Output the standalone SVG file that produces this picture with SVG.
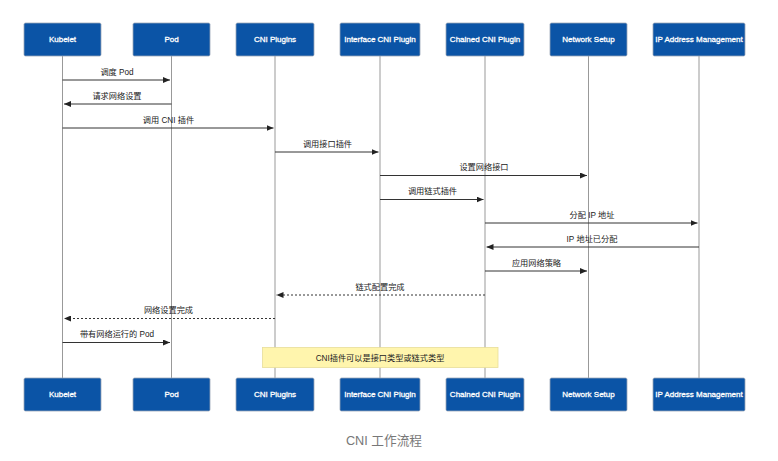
<svg xmlns="http://www.w3.org/2000/svg" width="778" height="461" viewBox="0 0 778 461">
<style>
.box{fill:#0b54a6;stroke:#9aa6b8;stroke-width:0.8}
.nt{font-family:"Liberation Sans",Arial,sans-serif;font-size:8px;fill:#ffffff;stroke:#ffffff;stroke-width:0.3;text-anchor:middle;dominant-baseline:central}
.life{stroke:#999999;stroke-width:1;fill:none}
.msg{stroke:#333333;stroke-width:1;fill:none;marker-end:url(#ah)}
.dash{stroke-dasharray:2,2}
.ml{font-family:"Liberation Sans","Noto Sans CJK SC",sans-serif;font-size:8.2px;fill:#222222;text-anchor:middle}
.note{fill:#fff5ad;stroke:#e8de9a;stroke-width:0.8}
.title{font-family:"Liberation Sans","Noto Sans CJK SC",sans-serif;font-size:12.7px;fill:#777777;text-anchor:middle;dominant-baseline:central}
</style>
<defs>
<marker id="ah" markerUnits="userSpaceOnUse" markerWidth="7" markerHeight="6" refX="7" refY="3" orient="auto">
<path d="M0,0 L7,3 L0,6 z" fill="#222222"/>
</marker>
</defs>
<rect width="778" height="461" fill="#ffffff"/>
<g id="lifelines">
<line class="life" x1="62.5" y1="56" x2="62.5" y2="378"/>
<line class="life" x1="171.5" y1="56" x2="171.5" y2="378"/>
<line class="life" x1="275" y1="56" x2="275" y2="378"/>
<line class="life" x1="380" y1="56" x2="380" y2="378"/>
<line class="life" x1="485" y1="56" x2="485" y2="378"/>
<line class="life" x1="588.5" y1="56" x2="588.5" y2="378"/>
<line class="life" x1="699" y1="56" x2="699" y2="378"/>
</g>
<g id="kubelet">
<rect class="box" x="24" y="23" width="77" height="33" rx="1.5"/><text class="nt" x="62.5" y="39.5">Kubelet</text>
<rect class="box" x="24" y="378" width="77" height="33" rx="1.5"/><text class="nt" x="62.5" y="394.5">Kubelet</text>
</g>
<g id="pod">
<rect class="box" x="133" y="23" width="77" height="33" rx="1.5"/><text class="nt" x="171.5" y="39.5">Pod</text>
<rect class="box" x="133" y="378" width="77" height="33" rx="1.5"/><text class="nt" x="171.5" y="394.5">Pod</text>
</g>
<g id="cni-plugins">
<rect class="box" x="236" y="23" width="78" height="33" rx="1.5"/><text class="nt" x="275" y="39.5">CNI Plugins</text>
<rect class="box" x="236" y="378" width="78" height="33" rx="1.5"/><text class="nt" x="275" y="394.5">CNI Plugins</text>
</g>
<g id="interface-cni-plugin">
<rect class="box" x="340" y="23" width="80" height="33" rx="1.5"/><text class="nt" x="380" y="39.5">Interface CNI Plugin</text>
<rect class="box" x="340" y="378" width="80" height="33" rx="1.5"/><text class="nt" x="380" y="394.5">Interface CNI Plugin</text>
</g>
<g id="chained-cni-plugin">
<rect class="box" x="446" y="23" width="78" height="33" rx="1.5"/><text class="nt" x="485" y="39.5">Chained CNI Plugin</text>
<rect class="box" x="446" y="378" width="78" height="33" rx="1.5"/><text class="nt" x="485" y="394.5">Chained CNI Plugin</text>
</g>
<g id="network-setup">
<rect class="box" x="550" y="23" width="77" height="33" rx="1.5"/><text class="nt" x="588.5" y="39.5">Network Setup</text>
<rect class="box" x="550" y="378" width="77" height="33" rx="1.5"/><text class="nt" x="588.5" y="394.5">Network Setup</text>
</g>
<g id="ip-address-management">
<rect class="box" x="653" y="23" width="92" height="33" rx="1.5"/><text class="nt" x="699" y="39.5">IP Address Management</text>
<rect class="box" x="653" y="378" width="92" height="33" rx="1.5"/><text class="nt" x="699" y="394.5">IP Address Management</text>
</g>
<g id="connectors">
<line class="msg" x1="62.5" y1="80" x2="170" y2="80"/>
<text class="ml" x="117" y="75">调度 Pod</text>
<line class="msg" x1="171.5" y1="104" x2="64" y2="104"/>
<text class="ml" x="117" y="99">请求网络设置</text>
<line class="msg" x1="62.5" y1="128" x2="273.5" y2="128"/>
<text class="ml" x="168.5" y="122.5">调用 CNI 插件</text>
<line class="msg" x1="275" y1="152" x2="378.5" y2="152"/>
<text class="ml" x="327.5" y="146.5">调用接口插件</text>
<line class="msg" x1="380" y1="175.5" x2="587" y2="175.5"/>
<text class="ml" x="484" y="170">设置网络接口</text>
<line class="msg" x1="380" y1="199.5" x2="483.5" y2="199.5"/>
<text class="ml" x="432.5" y="194">调用链式插件</text>
<line class="msg" x1="485" y1="223" x2="697.5" y2="223"/>
<text class="ml" x="592" y="217.5">分配 IP 地址</text>
<line class="msg" x1="699" y1="247" x2="486.5" y2="247"/>
<text class="ml" x="592" y="241.5">IP 地址已分配</text>
<line class="msg" x1="485" y1="271" x2="587" y2="271"/>
<text class="ml" x="536.5" y="265.5">应用网络策略</text>
<line class="msg dash" x1="485" y1="295" x2="276.5" y2="295"/>
<text class="ml" x="380" y="289.5">链式配置完成</text>
<line class="msg dash" x1="275" y1="318.5" x2="64" y2="318.5"/>
<text class="ml" x="168.5" y="313">网络设置完成</text>
<line class="msg" x1="62.5" y1="342.5" x2="170" y2="342.5"/>
<text class="ml" x="117" y="337">带有网络运行的 Pod</text>
</g>
<g id="note">
<rect class="note" x="262.5" y="347.5" width="235.5" height="20"/>
<text class="ml" x="380" y="360.5">CNI插件可以是接口类型或链式类型</text>
</g>
<text class="title" x="384" y="441">CNI 工作流程</text>
</svg>
